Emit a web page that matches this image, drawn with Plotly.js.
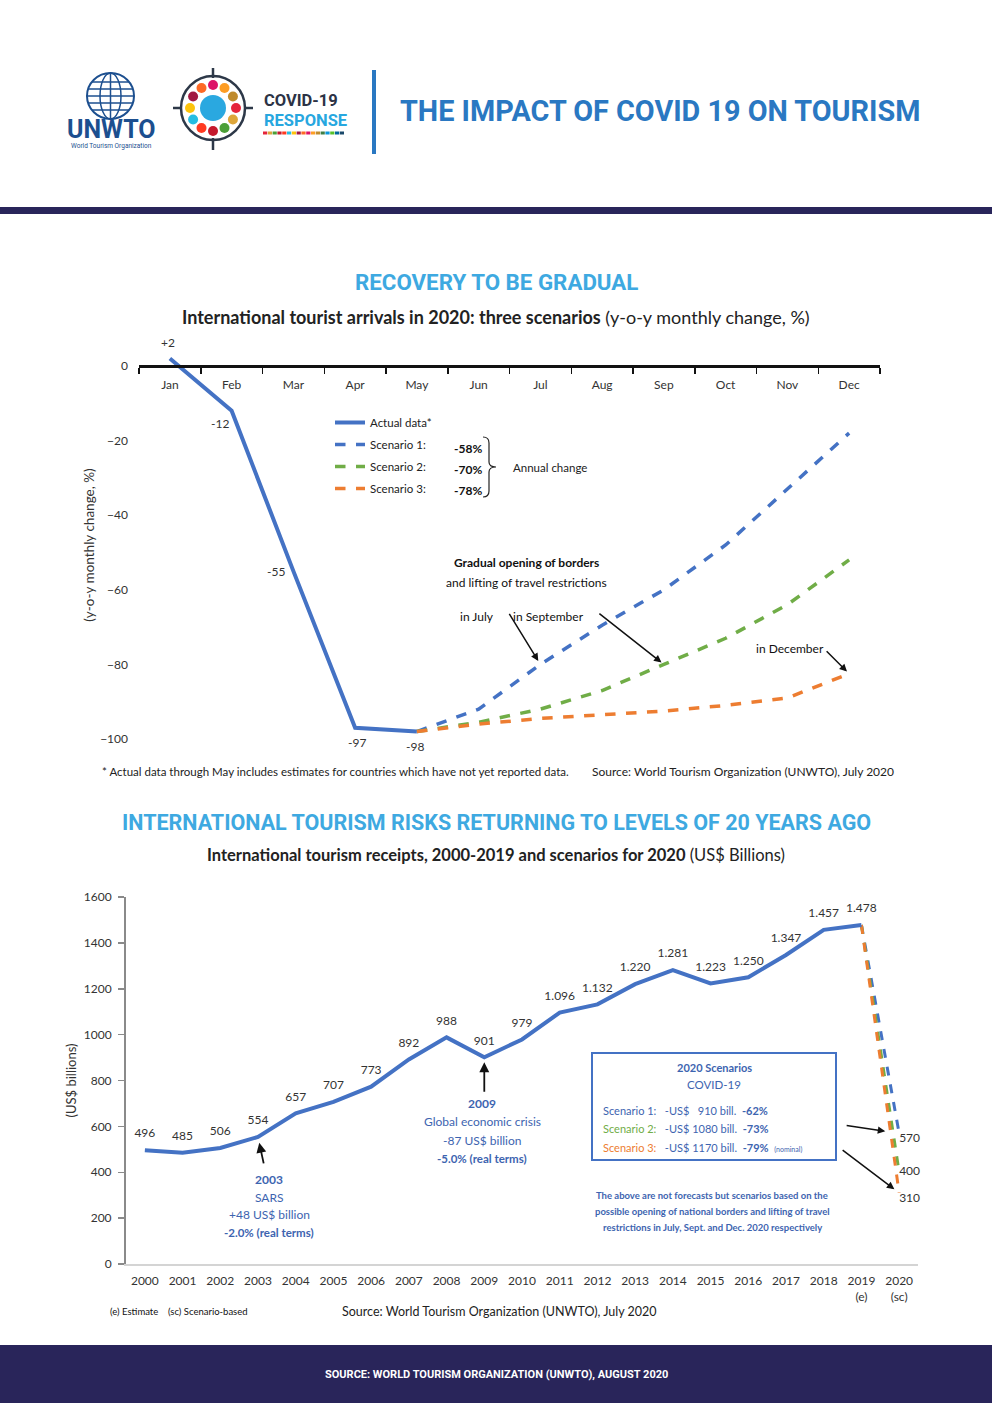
<!DOCTYPE html>
<html><head><meta charset="utf-8">
<script src="https://cdn.plot.ly/plotly-3.0.1.min.js"></script>
<style>html,body{margin:0;padding:0;background:#fff}#chart{width:992px;height:1403px}</style>
</head><body><div id="chart"></div>
<script>
// ---------- Chart 1 data: monthly arrivals change 2020 ----------
const months = ['Jan','Feb','Mar','Apr','May','Jun','Jul','Aug','Sep','Oct','Nov','Dec'];
const actualMonths = ['Jan','Feb','Mar','Apr','May'];
const actualValues = [2, -12, -55, -97, -98];
const actualLabels = ['+2', '-12', '-55', '-97', '-98'];
const scenarioMonths = ['May','Jun','Jul','Aug','Sep','Oct','Nov','Dec'];
const scenario1 = [-98, -92, -80, -69.5, -60, -48, -33, -18];
const scenario2 = [-98, -95.5, -92, -87, -80, -73, -64, -52];
const scenario3 = [-98, -96, -94.5, -93.5, -92.5, -91, -89, -82.5];
const scenarioNames = ['Scenario 1:', 'Scenario 2:', 'Scenario 3:'];
const annualChange = ['-58%', '-70%', '-78%'];
const yTicks1 = [0, -20, -40, -60, -80, -100];

// ---------- Chart 2 data: receipts 2000-2019 + 2020 scenarios ----------
const years = [2000,2001,2002,2003,2004,2005,2006,2007,2008,2009,2010,2011,2012,2013,2014,2015,2016,2017,2018,2019];
const receipts = [496,485,506,554,657,707,773,892,988,901,979,1096,1132,1220,1281,1223,1250,1347,1457,1478];
const scenarioYears = [2019, 2020];
const receipts2020 = [570, 400, 310];
const yearTickVals = [2000,2001,2002,2003,2004,2005,2006,2007,2008,2009,2010,2011,2012,2013,2014,2015,2016,2017,2018,2019,2020];
const yearTickText = ['2000','2001','2002','2003','2004','2005','2006','2007','2008','2009','2010','2011','2012','2013','2014','2015','2016','2017','2018','2019<br>(e)','2020<br>(sc)'];
const yTicks2 = [0,200,400,600,800,1000,1200,1400,1600];

// ---------- helpers ----------
const W = 992, H = 1403;
const px = x => x / W, py = y => 1 - y / H;
const BLUE = '#4472c4', GREEN = '#70ad47', ORANGE = '#ed7d31', NAVY = '#29255a';
const BODY = 'Lato, "Open Sans", sans-serif';
const HEAD = 'Roboto, sans-serif';
const fmt = v => v >= 1000 ? Math.floor(v/1000) + '.' + String(v % 1000).padStart(3,'0') : String(v);
const sdg = ['#e5243b','#dda63a','#4c9f38','#c5192d','#ff3a21','#26bde2','#fcc30b','#a21942','#fd6925','#dd1367','#fd9d24','#bf8b2e','#3f7e44','#0a97d9','#56c02b','#00689d','#19486a'];

const traces = [];
// Chart 1 traces
traces.push({x: actualMonths, y: actualValues, xaxis:'x', yaxis:'y', mode:'lines', name:'Actual data*',
  line:{color:BLUE, width:4}, legendgroup:'a', hoverinfo:'skip'});
const scen = [scenario1, scenario2, scenario3], scol = [BLUE, GREEN, ORANGE];
for (let i = 0; i < 3; i++) {
  traces.push({x: scenarioMonths, y: scen[i], xaxis:'x', yaxis:'y', mode:'lines', name: scenarioNames[i],
    line:{color: scol[i], width:3.5, dash:'dash'}, legendgroup:'s'+i, hoverinfo:'skip'});
}

// Chart 2 traces
for (let i = 0; i < 3; i++) {
  traces.push({x: scenarioYears, y: [receipts[receipts.length-1], receipts2020[i]], xaxis:'x2', yaxis:'y2', mode:'lines',
    line:{color: scol[i], width:3, dash:'dash'}, showlegend:false, hoverinfo:'skip'});
}
traces.push({x: years, y: receipts, xaxis:'x2', yaxis:'y2', mode:'lines+markers+text', text: receipts.map(fmt),
  textposition:'top center', marker:{size:14, color:'rgba(0,0,0,0)'},
  textfont:{family:BODY, size:12, color:'#333'}, line:{color:BLUE, width:4}, showlegend:false, hoverinfo:'skip', cliponaxis:false});
traces.push({x: [2020,2020,2020], y: receipts2020, xaxis:'x2', yaxis:'y2', mode:'text', text: receipts2020.map(String),
  textposition:['bottom right','middle right','bottom right'], textfont:{family:BODY, size:12, color:'#333'},
  showlegend:false, hoverinfo:'skip', cliponaxis:false});

const shapes = [];
const ann = [];
function txt(x, y, text, o) {
  o = o || {};
  ann.push(Object.assign({xref:'paper', yref:'paper', x: px(x), y: py(y), text: text, showarrow:false,
    xanchor:'center', yanchor:'middle', font:{family:BODY, size:12, color:'#222'}}, o));
}
const P = (x, y) => px(x) + ',' + py(y);

// data labels of chart 1 (anchored to the data points)
const labelShift = [[-2, 16], [-12, -13], [-17, 0], [2, -15], [-2, -15]];
actualLabels.forEach((t, i) => ann.push({xref:'x', yref:'y', x: months.indexOf(actualMonths[i]), y: actualValues[i], text: t,
  showarrow:false, xshift: labelShift[i][0], yshift: labelShift[i][1], font:{family:BODY, size:12, color:'#333'}}));

// ---------- header ----------
shapes.push({type:'circle', xref:'paper', yref:'paper', x0:px(87), x1:px(134), y0:py(73), y1:py(119), line:{color:'#1c4f8f', width:2}, fillcolor:'#ffffff'});
shapes.push({type:'circle', xref:'paper', yref:'paper', x0:px(100), x1:px(121), y0:py(73), y1:py(119), line:{color:'#1c4f8f', width:1.5}});
shapes.push({type:'line', xref:'paper', yref:'paper', x0:px(110.5), x1:px(110.5), y0:py(73), y1:py(119), line:{color:'#1c4f8f', width:1.5}});
[82, 89, 96, 103, 110].forEach(yy => {
  const dy = Math.abs(yy - 96), hw = Math.sqrt(Math.max(0, 23*23 - dy*dy));
  shapes.push({type:'line', xref:'paper', yref:'paper', x0:px(110.5-hw), x1:px(110.5+hw), y0:py(yy), y1:py(yy), line:{color:'#1c4f8f', width:1.5}});
});
txt(111, 129, '<b>UNWTO</b>', {font:{family:HEAD, size:25, color:'#1c4f8f'}});
txt(111, 146, 'World Tourism Organization', {font:{family:HEAD, size:6.5, color:'#1c4f8f'}});
shapes.push({type:'circle', xref:'paper', yref:'paper', x0:px(181), x1:px(245), y0:py(76), y1:py(140), line:{color:'#2d3848', width:2.5}});
for (let k = 0; k < 12; k++) {
  const a = k / 12 * 2 * Math.PI, cx = 213 + 23*Math.cos(a), cy = 108 + 23*Math.sin(a);
  shapes.push({type:'circle', xref:'paper', yref:'paper', x0:px(cx-5), x1:px(cx+5), y0:py(cy-5), y1:py(cy+5), line:{width:0}, fillcolor: sdg[k]});
}
shapes.push({type:'circle', xref:'paper', yref:'paper', x0:px(200), x1:px(226), y0:py(95), y1:py(121), line:{width:0}, fillcolor:'#2aa8e0'});
[[213,68,213,78],[213,138,213,150],[173,108,181,108],[245,108,253,108]].forEach(s =>
  shapes.push({type:'line', xref:'paper', yref:'paper', x0:px(s[0]), x1:px(s[2]), y0:py(s[1]), y1:py(s[3]), line:{color:'#2d3848', width:2.5}}));
txt(262, 100, '<b>COVID-19</b>', {xanchor:'left', font:{family:HEAD, size:16.5, color:'#2c3345'}});
txt(262, 120, '<b>RESPONSE</b>', {xanchor:'left', font:{family:HEAD, size:16.5, color:'#27a7df'}});
for (let k = 0; k < 17; k++) {
  shapes.push({type:'rect', xref:'paper', yref:'paper', x0:px(263 + k*4.8), x1:px(263 + k*4.8 + 4.2), y0:py(131.5), y1:py(134.5), line:{width:0}, fillcolor: sdg[k]});
}
shapes.push({type:'line', xref:'paper', yref:'paper', x0:px(374), x1:px(374), y0:py(70), y1:py(154), line:{color:'#2a78c2', width:4}});
txt(398, 111, '<b>THE IMPACT OF COVID 19 ON TOURISM</b>', {xanchor:'left', font:{family:HEAD, size:28.8, color:'#2a78c2'}});
shapes.push({type:'rect', xref:'paper', yref:'paper', x0:0, x1:1, y0:py(207), y1:py(214), line:{width:0}, fillcolor:NAVY});

// ---------- chart 1 texts ----------
txt(496, 282, '<b>RECOVERY TO BE GRADUAL</b>', {font:{family:HEAD, size:22.3, color:'#3ea9e1'}});
txt(496, 317, '<b>International tourist arrivals in 2020: three scenarios</b> (y-o-y monthly change, %)', {font:{family:BODY, size:18, color:'#222'}});
annualChange.forEach((t, i) => txt(452, 448 + i*21, '<b>' + t + '</b>', {xanchor:'left', font:{family:BODY, size:12, color:'#111'}}));
shapes.push({type:'path', xref:'paper', yref:'paper', line:{color:'#222', width:1.2},
  path:'M' + P(483,437) + ' Q' + P(489,437) + ' ' + P(489,443) + ' L' + P(489,462) + ' Q' + P(489,467) + ' ' + P(496,467) +
       ' Q' + P(489,467) + ' ' + P(489,472) + ' L' + P(489,491) + ' Q' + P(489,497) + ' ' + P(483,497)});
txt(511, 467, 'Annual change', {xanchor:'left', font:{family:BODY, size:11.5, color:'#222'}});
txt(526, 562, '<b>Gradual opening of borders</b>', {font:{family:BODY, size:12, color:'#111'}});
txt(526, 582, 'and lifting of travel restrictions', {font:{family:BODY, size:12, color:'#111'}});
txt(477, 616, 'in July', {font:{family:BODY, size:12, color:'#111'}});
txt(548, 616, 'in September', {font:{family:BODY, size:12, color:'#111'}});
txt(790, 648, 'in December', {font:{family:BODY, size:12, color:'#111'}});
ann.push({xref:'x', yref:'y', x: months.indexOf('Jul'), y: scenario1[2], ax:-32, ay:-52, showarrow:true, arrowhead:2, arrowsize:1, arrowwidth:1.5, arrowcolor:'#111', text:'', standoff:4});
ann.push({xref:'x', yref:'y', x: months.indexOf('Sep'), y: scenario2[4], ax:-66, ay:-52, showarrow:true, arrowhead:2, arrowsize:1, arrowwidth:1.5, arrowcolor:'#111', text:'', standoff:3});
ann.push({xref:'x', yref:'y', x: months.indexOf('Dec'), y: scenario3[7], ax:-24, ay:-24, showarrow:true, arrowhead:2, arrowsize:1, arrowwidth:1.5, arrowcolor:'#111', text:'', standoff:3});
txt(100, 772, '* Actual data through May includes estimates for countries which have not yet reported data.', {xanchor:'left', font:{family:BODY, size:11.5, color:'#222'}});
txt(590, 772, 'Source: World Tourism Organization (UNWTO), July 2020', {xanchor:'left', font:{family:BODY, size:12, color:'#222'}});

// ---------- chart 2 texts ----------
txt(496, 822, '<b>INTERNATIONAL TOURISM RISKS RETURNING TO LEVELS OF 20 YEARS AGO</b>', {font:{family:HEAD, size:21.5, color:'#3ea9e1'}});
txt(496, 855, '<b>International tourism receipts, 2000-2019 and scenarios for 2020</b> (US$ Billions)', {font:{family:BODY, size:16.5, color:'#222'}});
const CB = '#3d64b0';
ann.push({xref:'x2', yref:'y2', x: 2003, y: receipts[3], ax:6, ay:28, showarrow:true, arrowhead:2, arrowsize:1.1, arrowwidth:1.8, arrowcolor:'#111', text:'', standoff:6});
txt(269, 1179, '<b>2003</b>', {font:{family:BODY, size:12, color:CB}});
txt(269, 1197, 'SARS', {font:{family:BODY, size:12, color:CB}});
txt(269, 1214, '+48 US$ billion', {font:{family:BODY, size:12, color:CB}});
txt(269, 1232, '<b>-2.0% (real terms)</b>', {font:{family:BODY, size:11.5, color:CB}});
ann.push({xref:'x2', yref:'y2', x: 2009, y: receipts[9], ax:0, ay:36, showarrow:true, arrowhead:2, arrowsize:1.1, arrowwidth:1.8, arrowcolor:'#111', text:'', standoff:5});
txt(482, 1103, '<b>2009</b>', {font:{family:BODY, size:12, color:CB}});
txt(482, 1121, 'Global economic crisis', {font:{family:BODY, size:12, color:CB}});
txt(482, 1140, '-87 US$ billion', {font:{family:BODY, size:12, color:CB}});
txt(482, 1158, '<b>-5.0% (real terms)</b>', {font:{family:BODY, size:11.5, color:CB}});
shapes.push({type:'rect', xref:'paper', yref:'paper', x0:px(592), x1:px(836), y0:py(1053), y1:py(1160), line:{color:BLUE, width:2}, fillcolor:'rgba(255,255,255,0.95)'});
txt(714, 1067, '<b>2020 Scenarios</b>', {font:{family:BODY, size:11, color:CB}});
txt(714, 1084, 'COVID-19', {font:{family:BODY, size:11.5, color:CB}});
const boxAmounts = ['-US$&nbsp;&nbsp;&nbsp;910 bill.', '-US$ 1080 bill.', '-US$ 1170 bill.'];
const boxPct = ['-62%', '-73%', '-79%'];
for (let i = 0; i < 3; i++) {
  txt(601, 1110 + i*18.5, '<span style="color:' + (i === 0 ? CB : scol[i]) + '">' + scenarioNames[i] + '</span>&nbsp;&nbsp;&nbsp;' + boxAmounts[i] + '&nbsp;&nbsp;<b>' + boxPct[i] + '</b>' + (i === 2 ? '&nbsp;&nbsp;<span style="font-size:7px">(nominal)</span>' : ''),
    {xanchor:'left', font:{family:BODY, size:11, color:CB}});
}
ann.push({xref:'x2', yref:'y2', x: 2020, y: receipts2020[0], ax:-54, ay:-8, showarrow:true, arrowhead:2, arrowsize:1, arrowwidth:1.5, arrowcolor:'#111', text:'', standoff:14});
ann.push({xref:'x2', yref:'y2', x: 2020, y: receipts2020[2], ax:-58, ay:-44, showarrow:true, arrowhead:2, arrowsize:1, arrowwidth:1.5, arrowcolor:'#111', text:'', standoff:6});
txt(712, 1195, '<b>The above are not forecasts but scenarios based on the</b>', {font:{family:BODY, size:9.5, color:CB}});
txt(712, 1211, '<b>possible opening of national borders and lifting of travel</b>', {font:{family:BODY, size:9.5, color:CB}});
txt(712, 1227, '<b>restrictions in July, Sept. and Dec. 2020 respectively</b>', {font:{family:BODY, size:9.5, color:CB}});
txt(108, 1311, '(e) Estimate&nbsp;&nbsp;&nbsp;&nbsp;(sc) Scenario-based', {xanchor:'left', font:{family:BODY, size:9.5, color:'#111'}});
txt(340, 1311, 'Source: World Tourism Organization (UNWTO), July 2020', {xanchor:'left', font:{family:BODY, size:12.5, color:'#222'}});

// ---------- footer ----------
shapes.push({type:'rect', xref:'paper', yref:'paper', x0:0, x1:1, y0:0, y1:py(1345), line:{width:0}, fillcolor:NAVY, layer:'below'});
txt(496, 1374, '<b>SOURCE: WORLD TOURISM ORGANIZATION (UNWTO), AUGUST 2020</b>', {font:{family:HEAD, size:11, color:'#ffffff'}});

const layout = {
  width: W, height: H, margin:{l:0, r:0, t:0, b:0}, paper_bgcolor:'#fff', plot_bgcolor:'rgba(0,0,0,0)',
  font:{family:BODY, size:12, color:'#333'},
  showlegend: true,
  legend:{x: px(330), y: py(408), xanchor:'left', yanchor:'top', bgcolor:'rgba(0,0,0,0)', font:{family:BODY, size:11.5, color:'#222'},
    traceorder:'grouped', tracegroupgap: 3, itemwidth: 30},
  xaxis:{domain:[px(139), px(880)], type:'category', categoryorder:'array', categoryarray: months, range:[-0.5, 11.5],
    anchor:'free', position: py(366), showline:true, linecolor:'#111', linewidth:2.5, ticks:'outside', ticklen:6, tickwidth:1.5, tickcolor:'#111',
    tickson:'boundaries', showgrid:false, zeroline:false, tickfont:{family:BODY, size:12, color:'#333'}, ticklabelstandoff:7, fixedrange:true},
  yaxis:{domain:[py(739), py(351)], range:[-100, 4], anchor:'x', tickvals: yTicks1, showline:false, showgrid:false, zeroline:false, ticks:'',
    tickfont:{family:BODY, size:12, color:'#333'}, ticklabelstandoff:10,
    title:{text:'(y-o-y monthly change, %)', font:{family:BODY, size:13.5, color:'#333'}, standoff:2}},
  xaxis2:{domain:[px(126), px(918)], range:[1999.5, 2020.5], anchor:'y2', tickvals: yearTickVals, ticktext: yearTickText,
    showline:true, linecolor:'#d4d4d4', linewidth:2, ticks:'', showgrid:false, zeroline:false,
    tickfont:{family:BODY, size:12, color:'#333'}, ticklabelstandoff:5},
  yaxis2:{domain:[py(1264), py(897)], range:[0, 1600], anchor:'x2', tickvals: yTicks2, showline:true, linecolor:'#8a8a8a', linewidth:2,
    ticks:'outside', ticklen:6, tickcolor:'#8a8a8a', tickwidth:1.5, showgrid:false, zeroline:false,
    tickfont:{family:BODY, size:12, color:'#333'}, ticklabelstandoff:4,
    title:{text:'(US$ billions)', font:{family:BODY, size:13, color:'#333'}, standoff:4}},
  shapes: shapes, annotations: ann
};
Plotly.newPlot('chart', traces, layout, {staticPlot:true, displayModeBar:false});
</script></body></html>
